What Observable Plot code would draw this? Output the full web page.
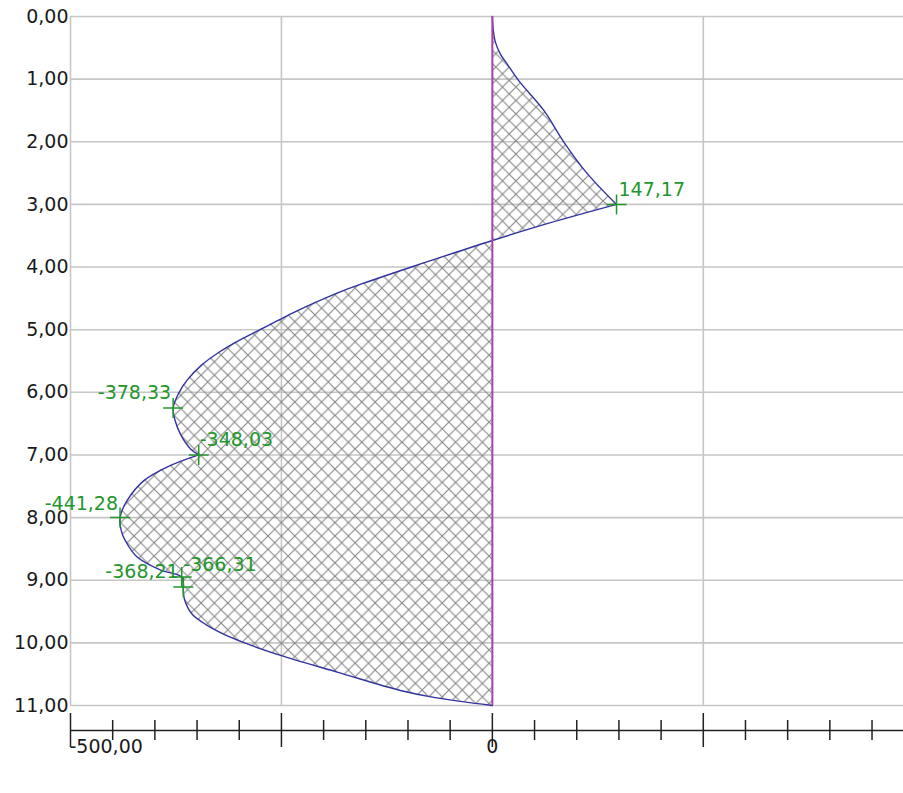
<!DOCTYPE html>
<html>
<head>
<meta charset="utf-8">
<script src="https://cdn.jsdelivr.net/npm/d3@7"></script>
<script src="https://cdn.jsdelivr.net/npm/@observablehq/plot@0.6"></script>
<style>
  html, body { margin: 0; padding: 0; background: #ffffff; }
  #chart svg { display: block; }
</style>
</head>
<body>
<div id="chart"></div>
<script>
// ---- Data ----
const depth = [0.00, 0.20, 0.41, 0.60, 0.755, 1.02, 1.50, 2.00, 2.50, 3.00, 3.30, 3.576,
               3.76, 3.95, 4.135, 4.27, 4.40, 4.64, 4.81, 4.99, 5.17, 5.36, 5.57, 5.81, 6.02, 6.25,
               6.45, 6.66, 6.90, 7.00, 7.19, 7.41, 7.73, 8.00, 8.20, 8.37, 8.63, 8.84, 8.95, 9.11,
               9.30, 9.54, 9.72, 9.93, 10.20, 10.47, 10.76, 10.87, 11.00];
const value = [0.0, 1.0, 3.6, 9.5, 17.4, 31, 61, 84.5, 112, 147.17, 67, 0,
               -42, -85, -126, -155, -181, -222, -248, -274, -300, -324, -345, -362, -372, -378.33,
               -376, -370, -358, -348.03, -385, -413, -433, -441.28, -440, -435, -421, -393, -368.21, -366.31,
               -365, -356, -338, -307, -251, -183, -109, -69.5, 0];
// depths where the outline has a sharp corner
const cornerDepths = [3.00, 7.00, 9.11];

const markerDepth = [3.00, 6.25, 7.00, 8.00, 8.95, 9.11];
const markerValue = [147.17, -378.33, -348.03, -441.28, -368.21, -366.31];
const markerLabel = ["147,17", "-378,33", "-348,03", "-441,28", "-368,21", "-366,31"];

const yTicks = [0, 1, 2, 3, 4, 5, 6, 7, 8, 9, 10, 11];
const yTickLabels = ["0,00", "1,00", "2,00", "3,00", "4,00", "5,00", "6,00", "7,00", "8,00", "9,00", "10,00", "11,00"];

const xGrid = [-500, -250, 250];
const xMajorTicks = [-500, -250, 0, 250];
const xMinorTicks = [-450, -400, -350, -300, -200, -150, -100, -50, 50, 100, 150, 200, 300, 350, 400, 450];
const xLabelValues = [-500, 0];
const xLabelTexts = ["-500,00", "0"];

// ---- Layout / style ----
const W = 903, H = 793;
const mTop = 16, mBottom = 88, mLeft = 70, mRight = 0;
const yMax = 11;
const yOfPx = px => (px - mTop) / (H - mTop - mBottom) * yMax; // pixel row -> depth value

// split the profile into smooth pieces at the corner depths (corner point shared by both pieces)
const profile = [];
let seg = 0;
depth.forEach((d, i) => {
  profile.push({d, v: value[i], seg});
  if (cornerDepths.includes(d)) { seg++; profile.push({d, v: value[i], seg}); }
});
const markers = markerDepth.map((d, i) => ({d, v: markerValue[i], label: markerLabel[i]}));

const labelPlacement = [
  {anchor: "start", dx: 2, dy: -15},
  {anchor: "end", dx: -2, dy: -15},
  {anchor: "start", dx: 1, dy: -15},
  {anchor: "end", dx: -2, dy: -14},
  {anchor: "end", dx: -3, dy: -5},
  {anchor: "start", dx: 0, dy: -22}
];

const green = "#23962b";
const font = "'DejaVu Sans', Verdana, sans-serif";

const labelMarks = markers.map((m, i) => Plot.text([m], {
  x: "v", y: "d", text: "label",
  textAnchor: labelPlacement[i].anchor,
  dx: labelPlacement[i].dx, dy: labelPlacement[i].dy,
  fill: green, fontSize: 19
}));

const svg = Plot.plot({
  width: W, height: H,
  marginTop: mTop, marginBottom: mBottom, marginLeft: mLeft, marginRight: mRight,
  style: {fontFamily: font, fontSize: "19px", background: "#ffffff", color: "#1a1a1a", overflow: "visible"},
  x: {domain: [-500, 487.3], axis: null},
  y: {domain: [0, yMax], reverse: true, axis: null},
  marks: [
    // grid
    Plot.ruleY(yTicks, {y: d => d, stroke: "#c6c6c6", strokeWidth: 1.6}),
    Plot.ruleX(xGrid, {x: d => d, stroke: "#c6c6c6", strokeWidth: 1.6}),
    // hatched area
    Plot.areaX(profile, {x1: 0, x2: "v", y: "d", z: "seg", curve: "catmull-rom", fill: "url(#hatch)"}),
    // outline
    Plot.lineX(profile, {x: "v", y: "d", z: "seg", curve: "catmull-rom", stroke: "#3333a0", strokeWidth: 1.4}),
    // zero line
    Plot.ruleX([0], {x: d => d, stroke: "#a444a8", strokeWidth: 2}),
    // markers
    Plot.dot(markers, {x: "v", y: "d", symbol: "plus", r: 6.5, stroke: green, strokeWidth: 1.5}),
    ...labelMarks,
    // y tick labels
    Plot.text(yTicks, {x: -500, y: d => d, text: (d, i) => yTickLabels[i], textAnchor: "end", dx: -2, fill: "#1a1a1a", fontSize: 19}),
    // bottom axis
    Plot.ruleY([yOfPx(730)], {y: d => d, stroke: "#222", strokeWidth: 1.5}),
    Plot.ruleX(xMajorTicks, {x: d => d, y1: yOfPx(713), y2: yOfPx(747), stroke: "#222", strokeWidth: 1.5}),
    Plot.ruleX(xMinorTicks, {x: d => d, y1: yOfPx(720), y2: yOfPx(740), stroke: "#222", strokeWidth: 1.5}),
    Plot.text([xLabelValues[0]], {x: d => d, y: yOfPx(746), text: d => xLabelTexts[0], textAnchor: "start", dx: -1, fill: "#1a1a1a", fontSize: 19}),
    Plot.text([xLabelValues[1]], {x: d => d, y: yOfPx(746), text: d => xLabelTexts[1], textAnchor: "middle", fill: "#1a1a1a", fontSize: 19})
  ]
});

// cross-hatch pattern definition
const s = 13.4;
const defs = d3.select(svg).insert("defs", ":first-child");
const pat = defs.append("pattern")
  .attr("id", "hatch")
  .attr("patternUnits", "userSpaceOnUse")
  .attr("width", s).attr("height", s);
pat.append("path")
  .attr("d", `M0,0L${s},${s}M${s},0L0,${s}`)
  .attr("stroke", "#858585")
  .attr("stroke-width", 1.1)
  .attr("fill", "none");

document.getElementById("chart").appendChild(svg);
</script>
</body>
</html>
